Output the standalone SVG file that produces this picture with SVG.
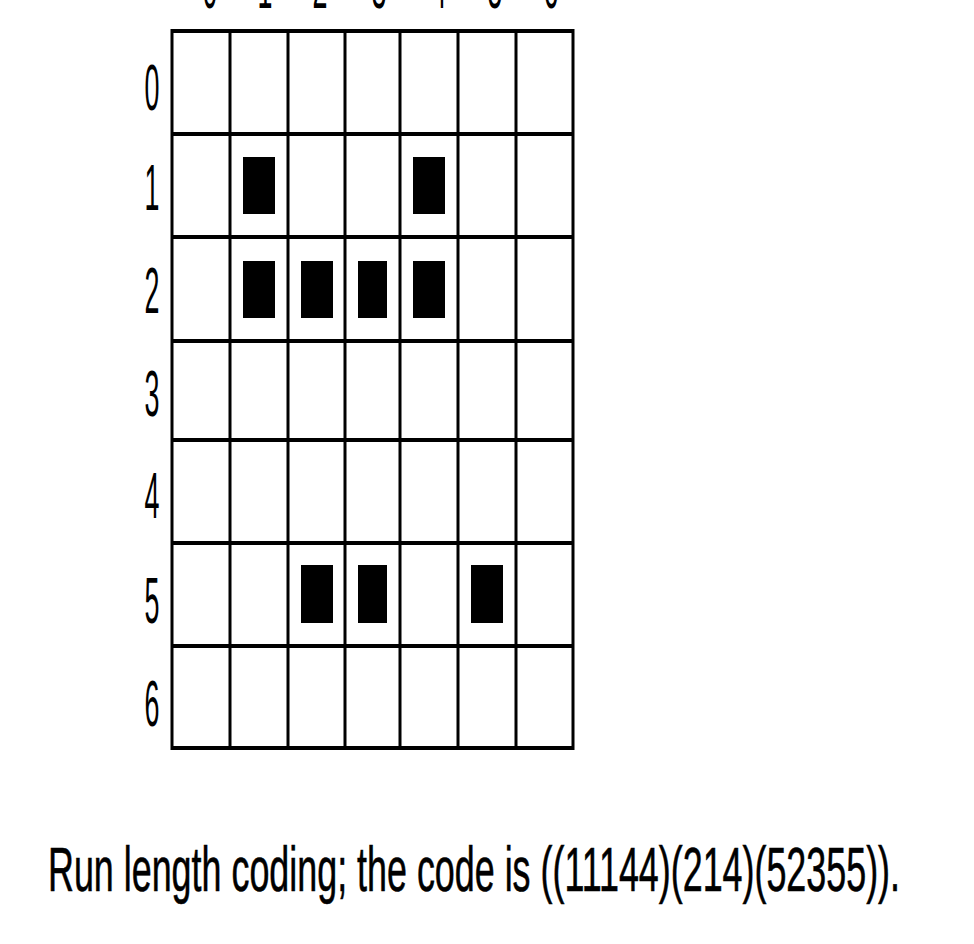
<svg xmlns="http://www.w3.org/2000/svg" width="974" height="944" viewBox="0 0 974 944">
<style>
.lbl{font-family:"Liberation Sans",Arial,sans-serif;font-size:64px;fill:#000;text-anchor:middle}
.cap{font-family:"Liberation Sans",Arial,sans-serif;font-size:63px;fill:#000;stroke:#000;stroke-width:0.6}
.h{stroke:#000;stroke-width:4;fill:none}
.v{stroke:#000;stroke-width:3;fill:none}
.blk{fill:#000}
</style>
<rect width="974" height="944" fill="#fff"/>
<g id="col-labels">
<text class="lbl" transform="translate(210,8) scale(0.42,1)">0</text>
<text class="lbl" transform="translate(265,8) scale(0.42,1)">1</text>
<text class="lbl" transform="translate(320,8) scale(0.42,1)">2</text>
<text class="lbl" transform="translate(379,8) scale(0.42,1)">3</text>
<text class="lbl" transform="translate(439,8) scale(0.42,1)">4</text>
<text class="lbl" transform="translate(495,8) scale(0.42,1)">5</text>
<text class="lbl" transform="translate(551,8) scale(0.42,1)">6</text>
</g>
<g id="row-labels">
<text class="lbl" transform="translate(152,110) scale(0.42,1)">0</text>
<text class="lbl" transform="translate(152,210) scale(0.42,1)">1</text>
<text class="lbl" transform="translate(152,313) scale(0.42,1)">2</text>
<text class="lbl" transform="translate(152,416) scale(0.42,1)">3</text>
<text class="lbl" transform="translate(152,518) scale(0.42,1)">4</text>
<text class="lbl" transform="translate(152,623) scale(0.42,1)">5</text>
<text class="lbl" transform="translate(152,726) scale(0.42,1)">6</text>
</g>
<g id="grid">
<line class="h" x1="171" y1="31" x2="574" y2="31"/>
<line class="h" x1="171" y1="134" x2="574" y2="134"/>
<line class="h" x1="171" y1="237" x2="574" y2="237"/>
<line class="h" x1="171" y1="341" x2="574" y2="341"/>
<line class="h" x1="171" y1="440" x2="574" y2="440"/>
<line class="h" x1="171" y1="543" x2="574" y2="543"/>
<line class="h" x1="171" y1="646" x2="574" y2="646"/>
<line class="h" x1="171" y1="748" x2="574" y2="748"/>
<line class="v" x1="172" y1="29" x2="172" y2="750"/>
<line class="v" x1="230" y1="29" x2="230" y2="750"/>
<line class="v" x1="288" y1="29" x2="288" y2="750"/>
<line class="v" x1="345" y1="29" x2="345" y2="750"/>
<line class="v" x1="400" y1="29" x2="400" y2="750"/>
<line class="v" x1="458" y1="29" x2="458" y2="750"/>
<line class="v" x1="516" y1="29" x2="516" y2="750"/>
<line class="v" x1="573" y1="29" x2="573" y2="750"/>
</g>
<g id="cells">
<rect class="blk" x="243" y="157" width="32" height="57"/>
<rect class="blk" x="413" y="157" width="32" height="57"/>
<rect class="blk" x="243" y="261" width="32" height="57"/>
<rect class="blk" x="301" y="261" width="32" height="57"/>
<rect class="blk" x="358" y="261" width="29" height="57"/>
<rect class="blk" x="413" y="261" width="32" height="57"/>
<rect class="blk" x="301" y="565" width="32" height="58"/>
<rect class="blk" x="358" y="565" width="29" height="58"/>
<rect class="blk" x="471" y="565" width="32" height="58"/>
</g>
<text id="caption" class="cap" x="48" y="891" textLength="852" lengthAdjust="spacingAndGlyphs">Run length coding; the code is ((11144)(214)(52355)).</text>
</svg>
